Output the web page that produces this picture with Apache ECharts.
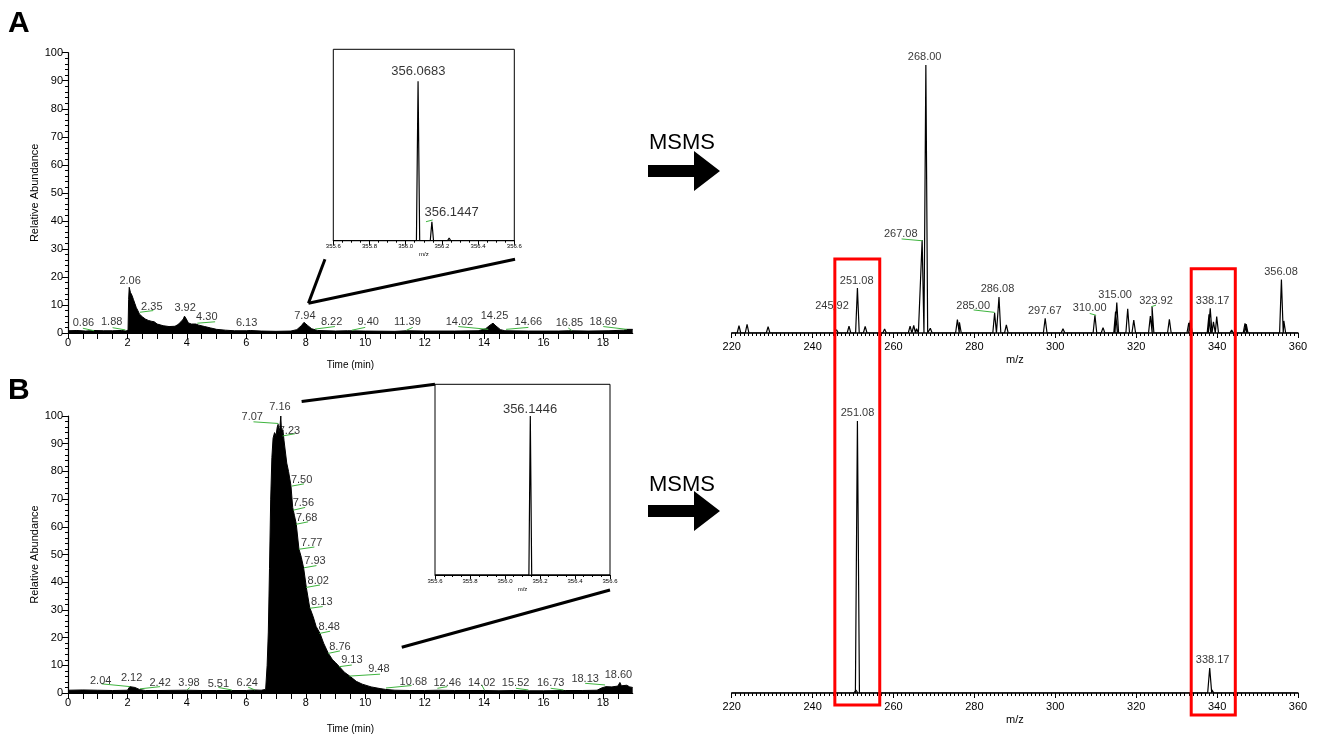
<!DOCTYPE html>
<html><head><meta charset="utf-8">
<script src="https://cdn.jsdelivr.net/npm/echarts@6/dist/echarts.min.js"></script>
<style>html,body{margin:0;padding:0;background:#fff}#c{width:1323px;height:738px}</style>
</head><body><div id="c"></div>
<script>
// ---------- DATA ----------
// Panel A extracted ion chromatogram (time min, relative abundance)
const chromA_time = [0,0.3,0.6,0.86,1.2,1.5,1.8,1.95,2.02,2.04,2.06,2.1,2.15,2.2,2.25,2.3,2.35,2.4,2.5,2.6,2.7,2.8,2.85,2.9,3.0,3.1,3.2,3.4,3.6,3.7,3.8,3.88,3.92,3.97,4.05,4.15,4.3,4.4,4.6,4.8,5.0,5.3,5.6,6.0,6.13,6.5,7.0,7.5,7.7,7.85,7.94,8.05,8.2,8.4,9.0,9.4,10.0,11.0,11.39,12.0,13.0,13.8,14.05,14.2,14.3,14.4,14.55,14.7,15.5,16.5,16.85,17.5,18.2,18.69,18.8,19.0];
const chromA_abund = [0.8,0.9,0.7,0.9,0.8,0.8,0.9,0.7,1.0,12,16.3,14.5,13.5,12.0,10.5,9.0,8.0,6.8,5.8,5.0,4.5,4.2,4.5,4.0,3.2,2.9,2.6,2.3,2.4,3.0,4.0,5.0,6.0,5.2,3.6,3.2,3.2,2.8,2.3,1.8,1.3,1.0,0.8,0.8,0.9,0.7,0.6,0.7,1.2,2.6,3.8,2.8,1.5,0.9,0.7,0.8,0.7,0.6,0.8,0.7,0.7,0.8,1.5,2.8,3.5,2.5,1.2,0.8,0.7,0.7,0.8,0.7,0.8,1.0,1.3,1.3];
// Panel B extracted ion chromatogram
const chromB_time = [0,0.5,1.0,1.5,2.0,2.08,2.12,2.25,2.4,2.6,3.0,3.98,4.5,5.0,5.51,6.0,6.24,6.5,6.65,6.7,6.74,6.78,6.82,6.86,6.9,6.95,7.0,7.04,7.07,7.1,7.13,7.16,7.19,7.23,7.27,7.32,7.36,7.42,7.5,7.56,7.62,7.68,7.77,7.85,7.93,8.02,8.13,8.25,8.35,8.48,8.6,8.76,8.9,9.0,9.13,9.3,9.48,9.7,9.9,10.2,10.5,10.68,11.0,11.5,12.0,12.46,13.0,14.02,14.5,15.0,15.52,16.0,16.73,17.3,17.8,17.95,18.1,18.3,18.5,18.57,18.62,18.8,18.9,19.0];
const chromB_abund = [1.0,1.1,1.0,0.9,1.0,2.3,2.6,2.0,1.3,0.9,0.9,1.0,0.9,0.9,0.9,0.9,1.1,1.0,1.3,10,22,45,70,85,92,94,93,96,97,94,96,100,93,95,91,91,83,80,75,67,64,61,52,49,45,38,31,27.5,24,21.5,18,14.3,12,11,9.5,7.5,6.1,4.2,3.2,2.2,1.6,1.3,1.0,0.9,0.9,1.0,0.9,0.9,0.8,0.9,0.8,0.8,0.9,0.9,1.0,1.8,2.3,2.2,2.5,3.8,2.6,2.8,2.2,2.0];

// Peak annotations: [text, label time, label abundance]
const chromA_labels = [["0.86",0.52,3.6],["1.88",1.47,3.9],["2.06",2.09,18.7],["2.35",2.82,9.4],["3.92",3.94,8.8],["4.30",4.67,5.6],["6.13",6.01,3.5],["7.94",7.97,6.1],["8.22",8.87,4.0],["9.40",10.1,4.0],["11.39",11.42,4.0],["14.02",13.17,3.8],["14.25",14.35,6.1],["14.66",15.49,3.8],["16.85",16.87,3.5],["18.69",18.01,4.0]];
// Green leader lines: [t1, v1, t2, v2]
const chromA_leaders = [[0.50,1.7,0.88,0.8],[1.50,1.9,1.93,1.1],[2.42,7.4,2.87,8.0],[4.35,3.5,4.95,4.0],[8.31,1.4,8.98,2.3],[9.55,1.0,10.0,2.0],[11.39,1.0,11.6,2.0],[13.13,2.3,14.14,1.3],[14.74,1.3,15.49,2.0],[16.83,1.8,16.95,0.9],[18.01,2.3,18.8,1.3]];
const chromB_labels = [["2.04",1.1,4.5],["2.12",2.14,5.3],["2.42",3.1,3.7],["3.98",4.07,3.5],["5.51",5.06,3.3],["6.24",6.03,3.5],["7.07",6.2,99.5],["7.16",7.13,103.4],["7.23",7.45,94.6],["7.50",7.86,76.9],["7.56",7.92,68.5],["7.68",8.03,63.3],["7.77",8.2,54.3],["7.93",8.31,47.7],["8.02",8.42,40.5],["8.13",8.54,33],["8.48",8.79,23.9],["8.76",9.15,16.7],["9.13",9.55,11.9],["9.48",10.46,8.5],["10.68",11.62,4.1],["12.46",12.76,3.7],["14.02",13.92,3.5],["15.52",15.06,3.5],["16.73",16.24,3.5],["18.13",17.4,4.9],["18.60",18.52,6.5]];
const chromB_leaders = [[1.13,3.3,2.09,2.3],[2.42,1.5,3.1,2.3],[4.0,1.1,4.1,2.0],[5.06,2.0,5.51,1.1],[6.06,2.1,6.29,1.1],[6.24,97.9,7.08,97.3],[7.22,92.8,7.64,93.6],[7.53,74.7,7.94,75.5],[7.58,66,7.98,67],[7.67,60.9,8.08,61.8],[7.77,51.9,8.29,52.7],[7.94,45.2,8.36,46],[8.01,38.1,8.48,39],[8.14,30.6,8.57,31.2],[8.46,21.5,8.82,22.3],[8.76,14.3,9.15,15.2],[9.13,9.5,9.55,10.1],[9.47,6.1,10.5,6.8],[10.7,1.8,11.56,2.7],[12.43,1.7,12.76,2.3],[13.92,2.9,14.01,1.1],[15.07,1.7,15.49,1.1],[16.24,1.7,16.67,1.1],[17.4,3.5,18.07,2.9]];

// Full-scan insets (m/z, relative abundance)
const insetA_mz = [356.0683,356.1447,356.24];
const insetA_int = [100,11.9,1.7];
const insetA_labels = [["356.0683",356.07,106],["356.1447",356.254,17.5]];
const insetA_leaders = [[356.112,11.9,356.149,13]];
const insetB_mz = [356.1446];
const insetB_int = [100];
const insetB_labels = [["356.1446",356.143,104.2]];

// MS/MS spectra (m/z, relative abundance)
const specA_mz = [221.8,223.8,229.0,245.92,249.0,251.08,253.0,257.8,264.1,265.0,265.7,267.08,268.00,269.1,275.8,276.3,285.00,286.08,287.9,297.5,301.9,309.8,311.8,314.9,315.2,317.9,319.4,323.5,323.92,328.2,333.0,333.4,338.0,338.3,339.1,339.9,343.6,346.9,347.2,355.9,356.5];
const specA_int = [2.7,3.2,2.4,1.2,2.6,16.8,2.5,1.5,2.6,2.8,1.6,34.7,100,1.8,5.0,4.0,7.5,13.4,3.0,5.5,1.6,6.6,2.0,8.0,11.4,9.0,4.8,6.3,9.8,5.1,3.8,4.8,7.0,9.2,4.2,6.1,1.1,3.6,3.3,20,4.5];
const specA_labels = [["268.00",267.7,102.9],["267.08",261.8,37.0],["251.08",250.9,19.5],["245.92",244.8,10.2],["285.00",279.7,10.2],["286.08",285.7,16.3],["297.67",297.4,8.3],["310.00",308.5,9.2],["315.00",314.8,14.2],["323.92",324.9,12.0],["338.17",338.9,12.0],["356.08",355.8,22.9]];
const specA_leaders = [[262.0,35.1,267.2,34.4],[245.1,8.8,245.5,8.3],[279.8,8.6,285.0,7.7],[308.5,7.3,310.1,6.6],[323.7,9.8,324.9,10.4]];
const specB_mz = [250.7,251.08,338.17,338.7];
const specB_int = [1.1,100,9.2,1.2];
const specB_labels = [["251.08",251.1,102.8],["338.17",338.9,12.1]];

// Axis tick values
const chromTicks = {min:0, max:19, step:0.5, labelStep:2};
const specTicks = {min:220, max:360, step:20};
const insetTicks = {min:355.6, max:356.6, step:0.2};

// Highlighted fragment windows (m/z ranges)
const boxRanges = [[245.5,256.6],[333.6,344.5]];

// ---------- BUILD ----------
const FONT = '"Liberation Sans", Arial, sans-serif';
const GREEN = '#3fb43f';
const pairs = (a,b) => a.map((x,i)=>[x,b[i]]);
function peakLine(mz, ints, lo, hi, hw){
  const pts = [[lo,0]];
  mz.map((m,i)=>[m,ints[i]]).sort((a,b)=>a[0]-b[0]).forEach(([m,h])=>{
    pts.push([m-hw,0],[m,h],[m+hw,0]);
  });
  pts.push([hi,0]);
  return pts;
}
function labelSeries(labels, xi, size){
  return {type:'scatter', xAxisIndex:xi, yAxisIndex:xi, symbolSize:0, clip:false, silent:true, z:6,
    data: labels.map(l=>({name:l[0], value:[l[1],l[2]]})),
    label:{show:true, position:'inside', formatter:'{b}', color:'#000', fontSize:size, fontFamily:FONT}};
}
function leaderSeries(leaders, xi){
  return {type:'lines', coordinateSystem:'cartesian2d', xAxisIndex:xi, yAxisIndex:xi, silent:true, z:5,
    data: leaders.map(l=>({coords:[[l[0],l[1]],[l[2],l[3]]]})),
    lineStyle:{color:GREEN, width:1, opacity:1}};
}
const grids = [
  {left:68, top:52.7, width:564.7, height:280.3},   // 0 chrom A
  {left:68, top:416, width:564.7, height:277},      // 1 chrom B
  {left:333.3, top:49.3, width:181, height:191.4, show:true, borderColor:'#000', borderWidth:1, backgroundColor:'#fff'}, // 2 inset A
  {left:435, top:384.3, width:175, height:190.7, show:true, borderColor:'#000', borderWidth:1, backgroundColor:'#fff'}, // 3 inset B
  {left:731.7, top:38.2, width:566.3, height:294.8}, // 4 spec A
  {left:731.7, top:393.8, width:566.3, height:299.2} // 5 spec B
];
const axisText = {color:'#000', fontSize:11, fontFamily:FONT};
function chromX(g, gap){
  return {gridIndex:g, type:'value', min:chromTicks.min, max:chromTicks.max, interval:chromTicks.step,
    axisLine:{lineStyle:{color:'#000', width:1.2}}, axisTick:{length:6, lineStyle:{color:'#000'}},
    axisLabel:Object.assign({margin:4, showMaxLabel:false, formatter:v=>(Math.abs(v % chromTicks.labelStep)<1e-9?String(v):'')}, axisText),
    splitLine:{show:false}, name:'Time (min)', nameLocation:'middle', nameGap:gap,
    nameTextStyle:{color:'#000', fontSize:10, fontFamily:FONT}};
}
function chromY(g){
  return {gridIndex:g, type:'value', min:0, max:100, interval:10,
    axisLine:{show:true, lineStyle:{color:'#000', width:1.2}}, axisTick:{show:true, length:6, lineStyle:{color:'#000'}},
    minorTick:{show:true, splitNumber:5, length:3, lineStyle:{color:'#000'}},
    axisLabel:Object.assign({margin:5}, axisText), splitLine:{show:false},
    name:'Relative Abundance', nameLocation:'middle', nameGap:21, nameRotate:90,
    nameTextStyle:{color:'#000', fontSize:11, fontFamily:FONT}};
}
function insetX(g){
  return {gridIndex:g, type:'value', min:insetTicks.min, max:insetTicks.max, interval:insetTicks.step,
    axisLine:{lineStyle:{color:'#000'}}, axisTick:{length:4, lineStyle:{color:'#000'}},
    minorTick:{show:true, splitNumber:4, length:2, lineStyle:{color:'#000'}},
    axisLabel:{color:'#000', fontSize:6, fontFamily:FONT, margin:3, formatter:v=>v.toFixed(1)},
    splitLine:{show:false}, name:'m/z', nameLocation:'middle', nameGap:11,
    nameTextStyle:{color:'#000', fontSize:6, fontFamily:FONT}};
}
function specX(g){
  return {gridIndex:g, type:'value', min:specTicks.min, max:specTicks.max, interval:specTicks.step,
    axisLine:{lineStyle:{color:'#000', width:1.5}}, axisTick:{length:5, lineStyle:{color:'#000'}},
    minorTick:{show:true, splitNumber:20, length:3, lineStyle:{color:'#000'}},
    axisLabel:Object.assign({margin:8}, axisText), splitLine:{show:false},
    name:'m/z', nameLocation:'middle', nameGap:21, nameTextStyle:{color:'#000', fontSize:11, fontFamily:FONT}};
}
const hidY = (g,max)=>({gridIndex:g, type:'value', min:0, max:max, show:false, splitLine:{show:false}});

const chromStyle = {type:'line', showSymbol:false, symbol:'none', lineStyle:{color:'#000', width:1}, areaStyle:{color:'#000', opacity:1}, silent:true, z:3};
const specStyle = {type:'line', showSymbol:false, symbol:'none', lineStyle:{color:'#000', width:1.2}, silent:true, z:3};

const option = {
  animation:false, backgroundColor:'#fff',
  grid: grids,
  xAxis: [chromX(0,27), chromX(1,31), insetX(2), insetX(3), specX(4), specX(5)],
  yAxis: [chromY(0), chromY(1), hidY(2,120), hidY(3,120), hidY(4,110), hidY(5,110)],
  series: [
    Object.assign({xAxisIndex:0, yAxisIndex:0, data:pairs(chromA_time, chromA_abund)}, chromStyle),
    Object.assign({xAxisIndex:1, yAxisIndex:1, data:pairs(chromB_time, chromB_abund)}, chromStyle),
    labelSeries(chromA_labels,0,11), leaderSeries(chromA_leaders,0),
    labelSeries(chromB_labels,1,11), leaderSeries(chromB_leaders,1),
    Object.assign({xAxisIndex:2, yAxisIndex:2, data:peakLine(insetA_mz, insetA_int, insetTicks.min, insetTicks.max, 0.009)}, specStyle),
    Object.assign({xAxisIndex:3, yAxisIndex:3, data:peakLine(insetB_mz, insetB_int, insetTicks.min, insetTicks.max, 0.008)}, specStyle),
    labelSeries(insetA_labels,2,13), leaderSeries(insetA_leaders,2),
    labelSeries(insetB_labels,3,13),
    Object.assign({xAxisIndex:4, yAxisIndex:4, data:peakLine(specA_mz, specA_int, specTicks.min, specTicks.max, 0.45)}, specStyle),
    Object.assign({xAxisIndex:5, yAxisIndex:5, data:peakLine(specB_mz, specB_int, specTicks.min, specTicks.max, 0.5)}, specStyle),
    labelSeries(specA_labels,4,11), leaderSeries(specA_leaders,4),
    labelSeries(specB_labels,5,11)
  ]
};
const chart = echarts.init(document.getElementById('c'), null, {renderer:'canvas'});
chart.setOption(option);

// ---------- decorations (positions from the axes) ----------
const px = (g, p) => chart.convertToPixel({gridIndex:g}, p);
const g = [];
function seg(a,b,w,color){ g.push({type:'line', z:10, shape:{x1:a[0],y1:a[1],x2:b[0],y2:b[1]}, style:{stroke:color||'#000', lineWidth:w}}); }
// zoom connectors
const aFrom = px(0,[8.09,10.6]);
seg(aFrom, px(2,[355.554,-11.6]), 3);
seg(aFrom, px(2,[356.604,-11.6]), 3);
seg(px(1,[7.86,105.2]), px(3,[355.6,120]), 3);
seg(px(1,[11.23,16.5]), px(3,[356.6,-9.4]), 3);
// red boxes across both MS/MS spectra
const boxY = [[27.6,-4.4],[24,-8.1]];
boxRanges.forEach((r,i)=>{
  const tl = px(4,[r[0], boxY[i][0]]);
  const br = px(5,[r[1], boxY[i][1]]);
  g.push({type:'rect', z:10, shape:{x:tl[0], y:tl[1], width:br[0]-tl[0], height:br[1]-tl[1]}, style:{fill:null, stroke:'#ff0000', lineWidth:3}});
});
// arrows + MSMS labels
function arrow(cy){
  g.push({type:'polygon', z:10, shape:{points:[[648,cy-6],[694,cy-6],[694,cy-20],[720,cy],[694,cy+20],[694,cy+6],[648,cy+6]]}, style:{fill:'#000'}});
}
arrow(171); arrow(511);
g.push({type:'text', z:10, style:{text:'MSMS', x:682, y:143, textAlign:'center', textVerticalAlign:'middle', fontSize:22, fontFamily:FONT, fill:'#000'}});
g.push({type:'text', z:10, style:{text:'MSMS', x:682, y:485, textAlign:'center', textVerticalAlign:'middle', fontSize:22, fontFamily:FONT, fill:'#000'}});
g.push({type:'text', z:10, style:{text:'A', x:8, y:23.5, textAlign:'left', textVerticalAlign:'middle', fontSize:30, fontWeight:'bold', fontFamily:FONT, fill:'#000'}});
g.push({type:'text', z:10, style:{text:'B', x:8, y:390.5, textAlign:'left', textVerticalAlign:'middle', fontSize:30, fontWeight:'bold', fontFamily:FONT, fill:'#000'}});
chart.setOption({graphic: g});
</script>
</body></html>
